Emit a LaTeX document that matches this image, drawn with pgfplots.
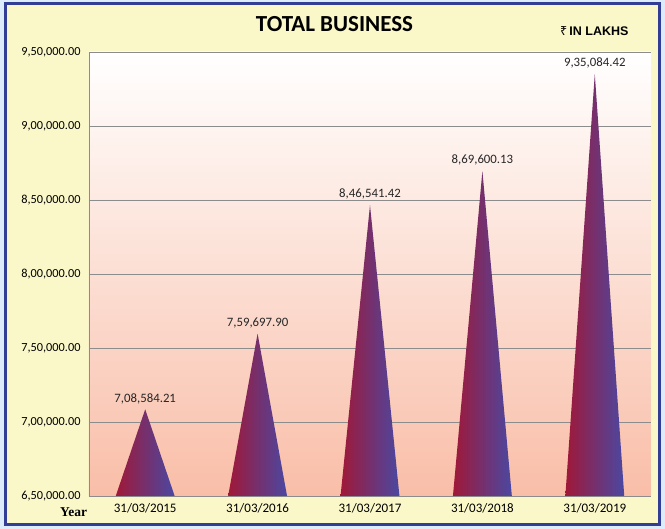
\documentclass[border=0pt]{standalone}
\usepackage{pgfplots}
\pgfplotsset{compat=1.18}
\usepackage{fontspec}
\setmainfont{Carlito}
\newfontfamily\libsans{Liberation Sans}
\newfontfamily\libserif{Liberation Serif}
\newfontfamily\rupeefont{Noto Sans}
\definecolor{outerblue}{RGB}{221,236,250}
\definecolor{frameblue}{RGB}{50,62,150}
\definecolor{paper}{RGB}{250,247,200}
\definecolor{peach}{RGB}{249,190,168}
\definecolor{crimson}{RGB}{160,24,56}
\definecolor{violetblue}{RGB}{74,72,162}
\definecolor{gridgray}{RGB}{140,140,140}
\begin{document}
\begin{tikzpicture}[x=1pt,y=1pt]
\fill[outerblue] (0,0) rectangle (665,529);
\draw[frameblue, line width=3pt, fill=paper] (5,4) rectangle (659,525);
\begin{axis}[
  at={(89pt,33pt)}, anchor=south west,
  width=562pt, height=444pt, scale only axis,
  xmin=-0.5, xmax=4.5, ymin=650000, ymax=950000,
  scaled y ticks=false,
  axis lines=left,
  axis line style={draw=gridgray, line width=0.8pt, -},
  axis background/.style={top color=white, bottom color=peach},
  ymajorgrids, grid style={draw=gridgray, line width=0.8pt},
  major tick length=0pt,
  xtick={0,1,2,3,4},
  xticklabels={31/03/2015,31/03/2016,31/03/2017,31/03/2018,31/03/2019},
  ytick={650000,700000,750000,800000,850000,900000,950000},
  yticklabels={{6,50,000.00},{7,00,000.00},{7,50,000.00},{8,00,000.00},{8,50,000.00},{9,00,000.00},{9,50,000.00}},
  xticklabel style={font=\fontsize{13}{15}\selectfont, yshift=-4pt},
  yticklabel style={font=\fontsize{12.3}{14}\selectfont, xshift=-5pt},
  clip=false,
  nodes near coords style={font=\fontsize{12.8}{14}\selectfont, yshift=2pt, text=black!85},
]
\addplot[draw=none, left color=crimson, right color=violetblue] coordinates {(-0.262,650000) (0,708584.21) (0.262,650000)};
\addplot[draw=none, left color=crimson, right color=violetblue] coordinates {(0.738,650000) (1,759697.90) (1.262,650000)};
\addplot[draw=none, left color=crimson, right color=violetblue] coordinates {(1.738,650000) (2,846541.42) (2.262,650000)};
\addplot[draw=none, left color=crimson, right color=violetblue] coordinates {(2.738,650000) (3,869600.13) (3.262,650000)};
\addplot[draw=none, left color=crimson, right color=violetblue] coordinates {(3.738,650000) (4,935084.42) (4.262,650000)};
\addplot[draw=none, mark=none, nodes near coords, point meta=explicit symbolic] table[meta=label] {
x y label
0 708584.21 {7,08,584.21}
1 759697.90 {7,59,697.90}
2 846541.42 {8,46,541.42}
3 869600.13 {8,69,600.13}
4 935084.42 {9,35,084.42}
};
\end{axis}
\node[font=\fontsize{23}{26}\selectfont\bfseries] at (334.5,504.5) {TOTAL BUSINESS};
\node[font=\libsans\bfseries\fontsize{12.5}{14}\selectfont, anchor=west, inner sep=0pt] at (560,497.5) {{\rupeefont\mdseries ₹}\,IN LAKHS};
\node[font=\libserif\bfseries\fontsize{13.5}{15}\selectfont] at (73.5,17) {Year};
\end{tikzpicture}
\end{document}
